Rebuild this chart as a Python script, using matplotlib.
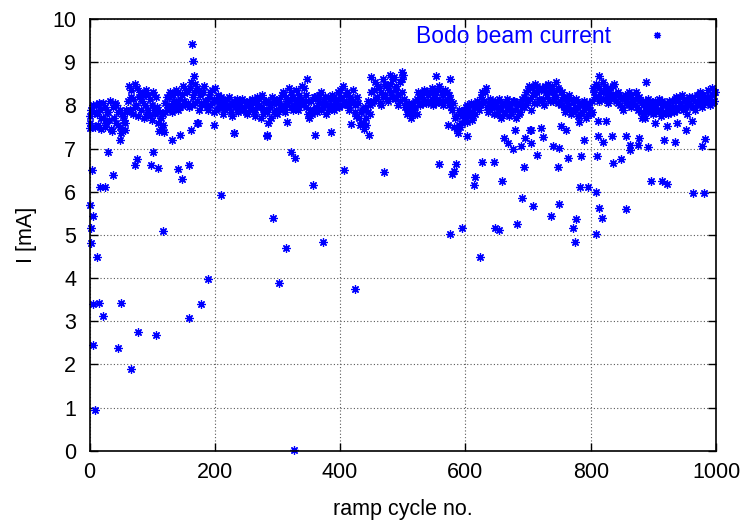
import matplotlib
matplotlib.use("Agg")
import matplotlib.pyplot as plt
import numpy as np

plt.rcParams['font.family'] = ['Liberation Sans', 'DejaVu Sans']

# main band, read in two interleaved passes (cycles 0,3,6,... and 1,4,7,...)
band_cycles_a = np.arange(0, 1000, 3)
band_current_a = [
    7.6, 7.9, 8.0, 7.5, 7.8, 8.05, 7.45, 7.7, 7.95, 7.6,
    7.85, 8.1, 7.4, 7.7, 8.0, 7.55, 7.9, 7.35, 7.75, 7.6,
    7.85, 8.45, 8.2, 7.8, 8.5, 8.0, 7.75, 8.3, 8.1, 7.7,
    8.35, 7.9, 8.15, 7.65, 8.3, 7.8, 7.95, 7.4, 7.7, 7.55,
    7.85, 8.2, 7.95, 8.3, 7.85, 8.1, 8.35, 7.9, 8.15, 8.0,
    8.45, 8.0, 8.3, 7.95, 8.55, 8.2, 8.05, 8.4, 7.9, 8.25,
    8.0, 8.45, 8.1, 7.9, 8.3, 8.05, 7.85, 8.4, 8.1, 7.95,
    8.2, 7.8, 8.05, 8.15, 7.95, 8.0, 7.75, 8.1, 8.0, 7.85,
    8.05, 8.15, 7.9, 8.0, 7.8, 8.1, 7.95, 8.05, 7.75, 8.2,
    8.0, 7.7, 8.25, 7.9, 8.1, 7.6, 7.95, 8.2, 7.85, 8.05,
    7.8, 8.15, 8.0, 8.3, 7.85, 8.1, 8.4, 7.95, 8.2, 8.0,
    8.35, 7.9, 8.15, 8.45, 8.05, 8.25, 7.8, 7.7, 8.1, 7.9,
    8.2, 7.85, 8.05, 8.3, 7.95, 8.1, 7.8, 8.2, 8.0, 8.25,
    7.9, 8.1, 8.3, 7.95, 8.2, 8.45, 8.05, 8.3, 7.9, 8.15,
    8.35, 8.0, 7.75, 8.05, 7.55, 7.9, 7.45, 7.7, 8.1, 7.8,
    8.3, 8.1, 8.55, 8.2, 8.4, 8.0, 8.6, 8.25, 8.45, 8.1,
    8.5, 8.2, 8.65, 8.35, 8.0, 8.55, 8.3, 8.7, 7.95, 7.8,
    8.05, 7.7, 7.9, 8.1, 7.8, 8.3, 8.0, 8.2, 8.35, 8.05,
    8.25, 8.1, 8.4, 8.0, 8.3, 8.15, 8.45, 8.05, 8.25, 8.1,
    8.3, 8.0, 8.15, 7.9, 7.5, 7.75, 7.35, 7.8, 7.6, 7.9,
    7.8, 8.0, 7.85, 8.05, 7.75, 7.95, 8.1, 7.9, 8.0, 8.3,
    8.1, 8.4, 7.85, 8.15, 8.0, 7.8, 8.1, 7.95, 8.15, 7.7,
    8.0, 7.85, 8.15, 7.75, 8.05, 7.9, 8.1, 7.7, 8.0, 7.85,
    8.15, 7.95, 8.3, 8.1, 8.45, 7.9, 8.25, 8.5, 8.05, 8.35,
    8.1, 8.4, 8.0, 8.3, 8.5, 8.1, 8.45, 8.2, 8.55, 8.05,
    8.35, 8.0, 8.2, 7.85, 8.1, 8.25, 7.8, 8.05, 7.9, 8.15,
    7.75, 8.0, 7.85, 8.1, 7.7, 7.95, 8.05, 7.8, 8.4, 8.2,
    8.45, 8.1, 8.3, 8.55, 8.15, 8.35, 8.05, 8.4, 8.2, 8.5,
    8.1, 8.3, 8.0, 8.2, 7.9, 8.25, 8.05, 8.3, 7.95, 8.15,
    8.0, 8.3, 7.9, 8.1, 7.7, 8.05, 7.85, 8.15, 7.95, 8.0,
    7.8, 8.1, 7.9, 8.15, 7.75, 8.0, 7.85, 8.05, 7.8, 7.95,
    8.1, 7.85, 8.2, 7.95, 8.05, 8.25, 7.9, 8.1, 7.8, 8.2,
    8.0, 8.15, 7.9, 8.25, 8.05, 8.3, 7.95, 8.2, 8.1, 8.35,
    8.0, 8.25, 8.1, 8.3,
]
band_cycles_b = np.arange(1, 1000, 3)
band_current_b = [
    7.75, 7.5, 7.85, 8.0, 7.55, 7.9, 7.7, 8.05, 7.5, 7.85,
    7.65, 7.45, 7.95, 8.05, 7.6, 7.85, 7.5, 7.8, 7.65, 7.9,
    8.1, 7.9, 8.35, 8.15, 7.95, 8.4, 8.2, 7.9, 8.25, 8.0,
    7.8, 8.25, 7.75, 8.0, 7.9, 8.2, 7.6, 7.85, 7.5, 7.8,
    8.05, 7.9, 8.2, 8.0, 8.25, 7.95, 8.05, 8.3, 7.95, 8.25,
    8.1, 8.35, 8.05, 8.4, 8.0, 8.3, 8.5, 8.1, 8.35, 8.05,
    8.3, 8.1, 7.95, 8.2, 8.0, 8.35, 8.15, 7.9, 8.25, 8.05,
    7.95, 8.1, 7.9, 8.0, 8.2, 7.85, 8.05, 7.95, 8.15, 8.05,
    7.9, 7.95, 8.1, 7.85, 8.05, 7.9, 8.15, 7.85, 8.1, 7.95,
    8.15, 7.95, 7.8, 8.1, 7.85, 8.05, 7.7, 8.05, 8.15, 7.9,
    8.05, 7.9, 8.25, 7.95, 8.2, 8.0, 8.1, 8.3, 7.9, 8.15,
    8.05, 8.25, 8.0, 8.1, 8.4, 7.95, 8.1, 7.9, 7.8, 8.2,
    7.95, 8.15, 8.25, 7.9, 8.05, 8.2, 8.0, 7.9, 8.15, 7.95,
    8.2, 8.0, 8.15, 8.35, 8.0, 8.1, 8.25, 8.0, 8.2, 8.05,
    8.1, 7.85, 8.2, 7.7, 7.85, 7.6, 7.95, 7.55, 7.85, 8.0,
    8.05, 8.35, 8.15, 8.45, 8.05, 8.3, 8.2, 8.5, 8.15, 8.35,
    8.3, 8.6, 8.15, 8.45, 8.25, 8.1, 8.6, 8.15, 8.05, 7.9,
    7.85, 8.0, 7.8, 7.95, 8.15, 8.05, 8.25, 8.05, 8.1, 8.3,
    8.05, 8.3, 8.15, 8.25, 8.05, 8.35, 8.1, 8.3, 8.0, 8.35,
    8.1, 8.25, 7.95, 8.05, 7.7, 7.45, 7.9, 7.5, 7.75, 7.7,
    7.95, 7.75, 8.0, 7.85, 8.0, 7.8, 7.95, 8.05, 8.2, 8.05,
    8.3, 7.95, 8.05, 7.9, 8.1, 7.95, 8.05, 7.8, 7.9, 8.05,
    7.8, 8.05, 7.9, 8.0, 7.8, 8.1, 7.9, 8.05, 7.8, 8.05,
    7.95, 8.2, 8.0, 8.35, 8.15, 8.4, 8.05, 8.3, 8.45, 8.15,
    8.35, 8.15, 8.45, 8.2, 8.3, 8.4, 8.1, 8.3, 8.2, 8.4,
    8.1, 8.3, 7.95, 8.15, 8.0, 7.9, 8.15, 7.85, 8.1, 7.95,
    8.05, 7.8, 8.05, 7.9, 8.0, 7.8, 7.9, 8.1, 8.3, 8.5,
    8.2, 8.4, 8.15, 8.3, 8.45, 8.2, 8.3, 8.15, 8.45, 8.25,
    8.25, 8.05, 8.2, 7.95, 8.15, 8.05, 8.2, 8.0, 8.25, 8.05,
    8.15, 7.95, 8.2, 7.85, 8.0, 8.1, 7.95, 7.85, 8.1, 7.9,
    8.0, 7.85, 8.05, 7.9, 8.1, 7.8, 8.0, 7.9, 8.1, 7.85,
    7.95, 8.15, 7.9, 8.1, 8.2, 7.95, 8.15, 7.95, 8.05, 8.0,
    8.2, 7.95, 8.1, 8.0, 8.2, 8.1, 8.25, 8.05, 8.2, 8.15,
    8.2, 8.05, 8.3,
]

# readings away from the band
out_cycles = [
    164, 165, 166, 0, 48, 56, 119, 132, 145, 162, 173, 199, 231, 284, 316,
    360, 385, 418, 446, 347, 498, 553, 450, 480, 575, 572, 590, 602, 610, 602,
    679, 703, 720, 661, 668, 676, 689, 695, 705, 724, 752, 761, 781, 790, 739,
    749, 714, 763, 785, 814, 889, 993, 802, 812, 824, 887, 902, 922, 937, 962,
    952, 811, 819, 834, 856, 877, 862, 875, 917, 935, 892, 863, 983, 978, 810,
    848, 835, 704, 230, 284, 172,
    29, 102, 76, 72, 98, 110, 4, 38, 142, 159, 147, 16, 25, 1, 6, 2, 118, 210,
    293, 321, 328, 357, 407, 470, 558, 579, 582, 585, 613, 616, 626, 646, 659,
    694, 747,
    690, 708, 750, 737, 683, 776, 771, 775, 783, 796, 808, 813, 818, 808, 856,
    897, 914, 922, 963, 981,
    6, 15, 51, 21, 178, 159, 77, 106, 5, 46, 67, 8, 327, 12, 2, 189, 303, 313,
    372, 424, 575, 594, 623, 647, 654,
]
out_current = [
    9.41, 9.03, 8.67, 7.47, 7.19, 7.42, 7.38, 7.2, 7.32, 7.42, 7.6, 7.55, 7.37, 7.3, 7.61,
    7.32, 7.38, 7.56, 7.32, 8.62, 8.77, 8.68, 8.65, 8.7, 8.6, 7.54, 7.54, 7.61, 7.67, 7.3,
    7.43, 7.43, 7.48, 7.25, 7.12, 6.99, 7.05, 7.25, 7.12, 7.26, 7.52, 7.43, 7.61, 7.19, 7.05,
    7.01, 6.85, 6.78, 6.82, 8.67, 8.54, 8.4, 7.84, 7.63, 7.63, 7.7, 7.59, 7.51, 7.59, 7.64,
    7.44, 7.29, 7.15, 7.28, 7.29, 7.25, 7.09, 7.09, 7.2, 7.16, 7.03, 6.96, 7.22, 7.06, 6.82,
    6.76, 6.67, 7.44, 7.37, 7.31, 7.58,
    6.93, 6.93, 6.75, 6.62, 6.61, 6.55, 6.51, 6.38, 6.53, 6.62, 6.3, 6.1, 6.1, 5.7, 5.43, 5.17, 5.09, 5.93,
    5.39, 6.92, 6.78, 6.16, 6.5, 6.46, 6.64, 6.41, 6.48, 6.65, 6.15, 6.33, 6.68, 6.68, 6.25,
    6.58, 6.57,
    5.86, 5.67, 5.71, 5.44, 5.26, 5.36, 5.15, 4.84, 6.11, 6.1, 6.0, 5.63, 5.39, 5.03, 5.59,
    6.24, 6.24, 6.17, 5.96, 5.98,
    3.4, 3.42, 3.43, 3.12, 3.4, 3.08, 2.75, 2.67, 2.45, 2.38, 1.89, 0.94, 0.02, 4.48, 4.8, 3.98, 3.88, 4.69,
    4.84, 3.74, 5.01, 5.17, 4.48, 5.17, 5.12,
]

cycles = np.concatenate([band_cycles_a, band_cycles_b, out_cycles])
current = np.concatenate([band_current_a, band_current_b, out_current])

fig = plt.figure(figsize=(7.44, 5.22), dpi=100)
ax = fig.add_axes([0.1203, 0.1366, 0.8421, 0.827])

ax.plot(cycles, current, linestyle='none', marker=(8, 2, 0), ms=6, mew=0.9,
        color='#0000ff', label='Bodo beam current', clip_on=False)

ax.set_xlim(0, 1000)
ax.set_ylim(0, 10)
ax.set_xticks(np.arange(0, 1001, 200))
ax.set_yticks(np.arange(0, 11, 1))
ax.tick_params(direction='in', length=6, width=1, top=True, right=True,
               labelsize=15.5)
ax.tick_params(axis='x', pad=8)
ax.tick_params(axis='y', pad=9.5)
ax.grid(True, color='0.35', linestyle=(0, (1, 2)), linewidth=0.8)
ax.set_axisbelow(True)
for s in ax.spines.values():
    s.set_linewidth(1.2)

ax.set_xlabel('ramp cycle no.', fontsize=15.5, labelpad=12)
ax.set_ylabel('I [mA]', fontsize=15.5, labelpad=11)

ax.legend(loc='upper right', bbox_to_anchor=(0.9425, 0.987), frameon=False,
          markerfirst=False, borderpad=0, borderaxespad=0, handlelength=2.0,
          handletextpad=1.0, fontsize=16.5, labelcolor='#0000ff', markerscale=0.85)

fig.savefig('out.png', dpi=100)
